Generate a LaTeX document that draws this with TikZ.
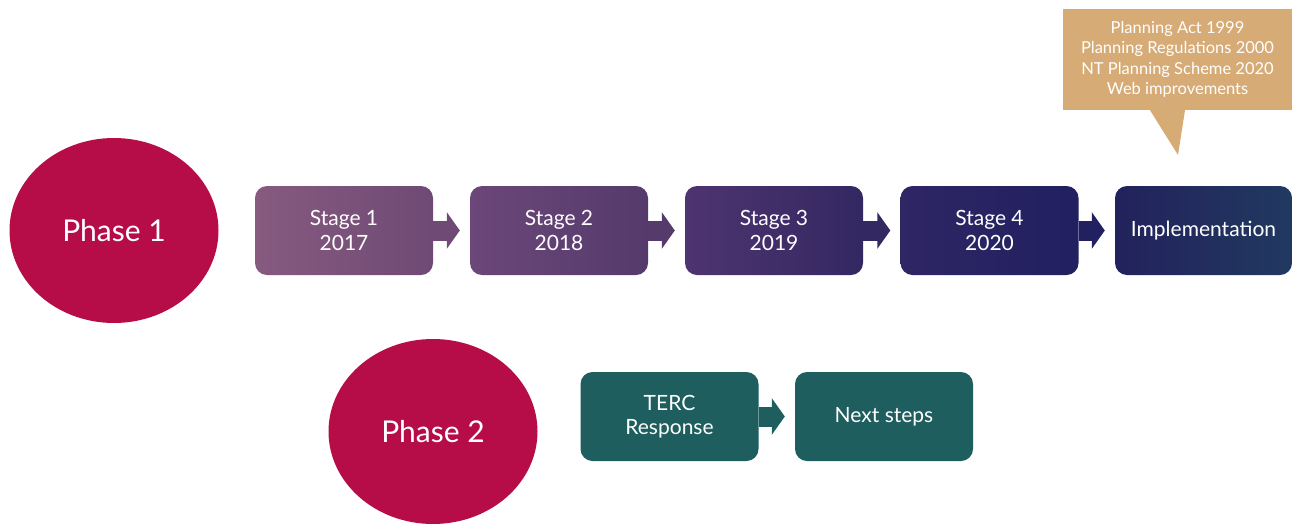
\documentclass[tikz,border=0pt]{standalone}
\usepackage{fontspec}
\setmainfont{Lato}
\usetikzlibrary{arrows.meta,shapes.geometric,calc}
\definecolor{phasecol}{HTML}{B60D49}
\definecolor{tealcol}{HTML}{1F5E5F}
\definecolor{calcol}{HTML}{D6AB76}
\definecolor{saL}{HTML}{875A80}\definecolor{saR}{HTML}{6E4A74}
\definecolor{sbL}{HTML}{6C4779}\definecolor{sbR}{HTML}{553A6C}
\definecolor{scL}{HTML}{4E3470}\definecolor{scR}{HTML}{332862}
\definecolor{sdL}{HTML}{2F2664}\definecolor{sdR}{HTML}{212060}
\definecolor{seL}{HTML}{22225C}\definecolor{seR}{HTML}{213960}
\tikzset{
  phase/.style={ellipse, fill=phasecol, text=white, minimum width=209pt, minimum height=185pt, inner sep=0pt, font=\fontsize{30}{36}\selectfont},
  stagebox/.style={rectangle, rounded corners=12pt, minimum width=178pt, minimum height=89pt, inner sep=0pt, text=white, align=center, font=\fontsize{21}{24.5}\selectfont},
  blockarrow/.style={line width=20pt, shorten >=10pt, -{Triangle[length=13pt,width=36pt]}},
}
\begin{document}
\begin{tikzpicture}[x=1pt,y=-1pt]
\useasboundingbox (0,0) rectangle (1293,523);
% phases
\node[phase] (p1) at (114,230.5) {Phase 1};
\node[phase] (p2) at (433,431.5) {Phase 2};
% stages
\node[stagebox, left color=saL, right color=saR] (s1) at (344,230.5) {Stage 1\\2017};
\node[stagebox, left color=sbL, right color=sbR] (s2) at (559,230.5) {Stage 2\\2018};
\node[stagebox, left color=scL, right color=scR] (s3) at (774,230.5) {Stage 3\\2019};
\node[stagebox, left color=sdL, right color=sdR] (s4) at (989.5,230.5) {Stage 4\\2020};
\node[stagebox, left color=seL, right color=seR, minimum width=177pt] (s5) at (1203.5,230.5) {Implementation};
\draw[blockarrow, saR] (s1) -- (s2);
\draw[blockarrow, sbR] (s2) -- (s3);
\draw[blockarrow, scR] (s3) -- (s4);
\draw[blockarrow, sdR] (s4) -- (s5);
% phase 2 boxes
\node[stagebox, fill=tealcol] (t1) at (669.5,416.5) {TERC\\Response};
\node[stagebox, fill=tealcol] (t2) at (884,416.5) {Next steps};
\draw[blockarrow, tealcol] (t1) -- (t2);
% callout
\node[rectangle, fill=calcol, minimum width=229pt, minimum height=101pt, inner sep=0pt, text=white, align=center, font=\fontsize{16.5}{20.5}\selectfont] (cal) at (1177.5,59.5) {Planning Act 1999\\Planning Regulations 2000\\NT Planning Scheme 2020\\Web improvements};
\coordinate (tip) at (1178,155);
\fill[calcol] (cal.south -| 1150,0) -- (tip) -- (cal.south -| 1185,0) -- cycle;
\end{tikzpicture}
\end{document}
